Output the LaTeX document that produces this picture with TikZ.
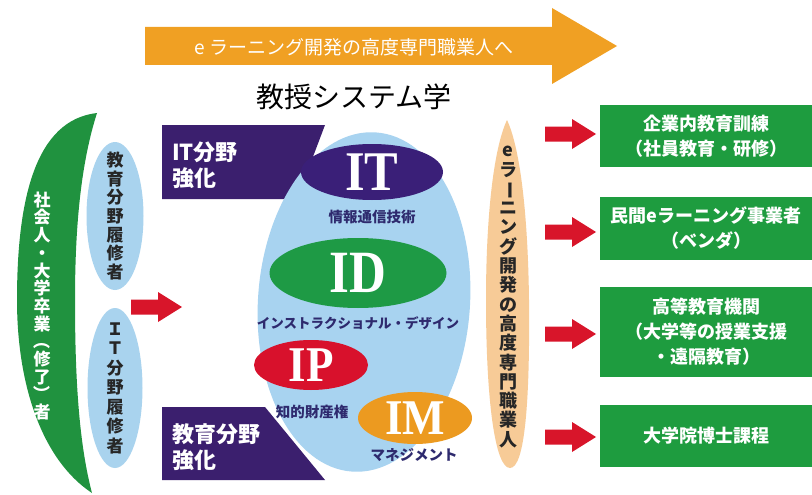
\documentclass[tikz,border=0pt]{standalone}
\usepackage{fontspec}
\setmainfont{Noto Sans CJK JP}
\newfontfamily\romb{Liberation Serif}
\usetikzlibrary{shapes.geometric}
\definecolor{topor}{HTML}{F0A023}
\definecolor{cresgreen}{HTML}{20923F}
\definecolor{boxgreen}{HTML}{1E9C3F}
\definecolor{lblue}{HTML}{A9D3EE}
\definecolor{eggblue}{HTML}{A8D3F0}
\definecolor{purp}{HTML}{3B1F6E}
\definecolor{itpurp}{HTML}{3A1F78}
\definecolor{idgreen}{HTML}{1E9A45}
\definecolor{ipred}{HTML}{D8112C}
\definecolor{imor}{HTML}{EC9A20}
\definecolor{peach}{HTML}{F7CB97}
\definecolor{arrred}{HTML}{D8152A}
\definecolor{lblcol}{HTML}{2E2A6E}
\begin{document}
\begin{tikzpicture}[x=1pt,y=-1pt,
  vtext/.style={align=center,inner sep=0pt},
  gbox/.style={rectangle,fill=boxgreen,minimum width=212pt,inner sep=0pt,text=white,align=center,font=\fontsize{18}{25}\selectfont\bfseries},
  bigel/.style={ellipse,inner sep=0pt,text=white,font=\romb\bfseries},
  lbl/.style={inner sep=0pt,text=lblcol,font=\fontsize{14.5}{16}\selectfont\bfseries},
  ptext/.style={inner sep=0pt,anchor=west,text=white,align=left,font=\fontsize{22}{26}\selectfont\bfseries},
  pics/redarrow/.style={code={\fill[arrred] (0,-7.5) -- (27,-7.5) -- (27,-15) -- (51,0) -- (27,15) -- (27,7.5) -- (0,7.5) -- cycle;}}
]
\useasboundingbox (0,0) rectangle (812,495);
\fill[white] (0,0) rectangle (812,495);

% top arrow
\fill[topor] (145,27) -- (552,27) -- (552,8) -- (617,46) -- (552,84) -- (552,65) -- (145,65) -- cycle;
\node[inner sep=0pt,text=white,font=\fontsize{19}{21}\selectfont] (toptext) at (354,47) {e ラーニング開発の高度専門職業人へ};
\node[inner sep=0pt,font=\fontsize{28}{30}\selectfont] (title) at (354,97) {教授システム学};

% left crescent
\fill[cresgreen] (97,113) .. controls (35,120) and (17,200) .. (17,300)
  .. controls (17,385) and (42,460) .. (92,493)
  .. controls (78,440) and (75,370) .. (75,300)
  .. controls (75,220) and (82,160) .. (97,113) -- cycle;
\node[vtext,text=white,font=\fontsize{17}{17.7}\selectfont\bfseries] (cres) at (42,306)
  {社\\会\\人\\・\\大\\学\\卒\\業\\\rotatebox[origin=c]{-90}{（}\\修\\了\\\rotatebox[origin=c]{-90}{）}\\者};

% light blue ellipses
\node[ellipse,fill=lblue,minimum width=57pt,minimum height=148pt,inner sep=0pt] (edu) at (115,216) {};
\node[vtext,font=\fontsize{17}{18.7}\selectfont\bfseries,text=black!85] at (edu) {教\\育\\分\\野\\履\\修\\者};
\node[ellipse,fill=lblue,minimum width=55pt,minimum height=160pt,inner sep=0pt] (itp) at (115,388) {};
\node[vtext,font=\fontsize{17}{19.5}\selectfont\bfseries,text=black!85] at (itp) {Ｉ\\Ｔ\\分\\野\\履\\修\\者};

% left red arrow
\pic at (131,307) {redarrow};

% purple boxes
\fill[purp] (162,125) -- (325,125) -- (297,199) -- (162,199) -- cycle;
\node[ptext] (itk) at (172,165) {IT分野\\強化};
\fill[purp] (162,407) -- (265,407) -- (325,480) -- (162,480) -- cycle;
\node[ptext] (eduk) at (172,447) {教育分野\\強化};

% egg
\node[ellipse,fill=eggblue,minimum width=212pt,minimum height=340pt,inner sep=0pt,rotate=-4] (egg) at (364,302) {};

\node[bigel,fill=itpurp,minimum width=142pt,minimum height=56pt] (IT) at (372,172) {\fontsize{56}{56}\selectfont\scalebox{0.9}[1]{IT}};
\node[lbl] (itl) at (372,217) {情報通信技術};
\node[bigel,fill=idgreen,minimum width=177pt,minimum height=70pt] (ID) at (358,273) {\fontsize{60}{60}\selectfont\scalebox{0.85}[1]{ID}};
\node[lbl,font=\fontsize{13.5}{15}\selectfont\bfseries] (idl) at (358,323) {インストラクショナル・デザイン};
\node[bigel,fill=ipred,minimum width=114pt,minimum height=50pt] (IP) at (311,365) {\fontsize{50}{50}\selectfont\scalebox{0.9}[1]{IP}};
\node[lbl] (ipl) at (312,412) {知的財産権};
\node[bigel,fill=imor,minimum width=114pt,minimum height=52pt] (IM) at (415,418) {\fontsize{50}{50}\selectfont\scalebox{0.9}[1]{IM}};
\node[lbl] (iml) at (414,455) {マネジメント};

% peach pill
\fill[peach] (507,120) .. controls (493,150) and (486,220) .. (486,300)
  .. controls (486,400) and (495,468) .. (510,468)
  .. controls (525,468) and (530,400) .. (529,300)
  .. controls (528,220) and (521,150) .. (507,120) -- cycle;
\node[vtext,font=\fontsize{18}{19.3}\selectfont\bfseries,text=black!85] (pill) at (508,297)
  {e\\ラ\\\rotatebox[origin=c]{-90}{ー}\\ニ\\ン\\グ\\開\\発\\の\\高\\度\\専\\門\\職\\業\\人};

% right arrows and boxes
\pic at (545,134) {redarrow};
\pic at (545,232) {redarrow};
\pic at (545,334) {redarrow};
\pic at (545,437) {redarrow};
\node[gbox,minimum height=62pt] (b1) at (706,136) {企業内教育訓練\\（社員教育・研修）};
\node[gbox,minimum height=63pt] (b2) at (706,228.5) {民間eラーニング事業者\\（ベンダ）};
\node[gbox,minimum height=90pt] (b3) at (706,332) {高等教育機関\\（大学等の授業支援\\・遠隔教育）};
\node[gbox,minimum height=62pt] (b4) at (706,436) {大学院博士課程};
\end{tikzpicture}
\end{document}
